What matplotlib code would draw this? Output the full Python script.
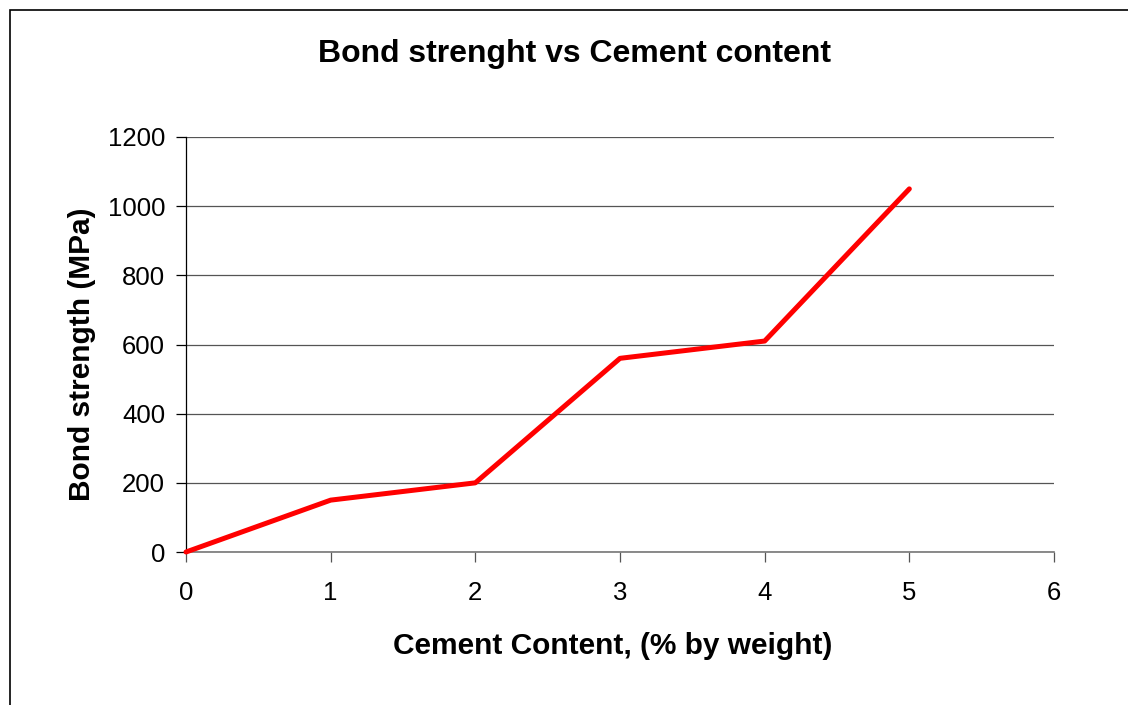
import matplotlib
matplotlib.use("Agg")
import matplotlib.pyplot as plt
from matplotlib.patches import Rectangle

plt.rcParams['font.family'] = ['Liberation Sans', 'DejaVu Sans']

cement_content = [0, 1, 2, 3, 4, 5]
bond_strength = [0, 150, 200, 560, 610, 1050]
x_ticks = [0, 1, 2, 3, 4, 5, 6]
y_ticks = [0, 200, 400, 600, 800, 1000, 1200]

fig = plt.figure(figsize=(11.28, 7.05), dpi=100)

# chart frame (runs off the right and bottom edges)
fig.patches.append(Rectangle((9.5 / 1128, -0.05), 1.2, 1 - 10 / 705 + 0.05,
                             transform=fig.transFigure, fill=False,
                             edgecolor='black', linewidth=1.2))

ax = fig.add_axes([186 / 1128, 1 - 552 / 705, 868 / 1128, 415 / 705])
ax.plot(cement_content, bond_strength, color='#ff0000', linewidth=3.6,
        solid_capstyle='round', zorder=3, clip_on=False)

ax.set_xlim(0, 6)
ax.set_ylim(0, 1200)
ax.set_xticks(x_ticks)
ax.set_yticks(y_ticks)
ax.grid(axis='y', color='#555555', linewidth=0.9)
ax.set_axisbelow(True)

for side in ['top', 'right']:
    ax.spines[side].set_visible(False)
ax.spines['left'].set_color('black')
ax.spines['left'].set_linewidth(0.9)
ax.spines['bottom'].set_color('#777777')
ax.spines['bottom'].set_linewidth(1.2)

ax.tick_params(axis='y', direction='out', length=7, width=0.9, color='black',
               labelsize=18.5, pad=8)
ax.tick_params(axis='x', direction='out', length=7, width=0.9, color='#555555',
               labelsize=18.5, pad=14)

fig.text(574 / 1128, 1 - 54 / 705, 'Bond strenght vs Cement content',
         ha='center', va='center', fontsize=23, fontweight='bold')
fig.text(613 / 1128, 1 - 646 / 705, 'Cement Content, (% by weight)',
         ha='center', va='center', fontsize=21.5, fontweight='bold')
fig.text(82 / 1128, 1 - 354 / 705, 'Bond strength (MPa)', rotation=90,
         ha='center', va='center', fontsize=21.5, fontweight='bold')

fig.savefig('out.png', dpi=100, facecolor='white')
